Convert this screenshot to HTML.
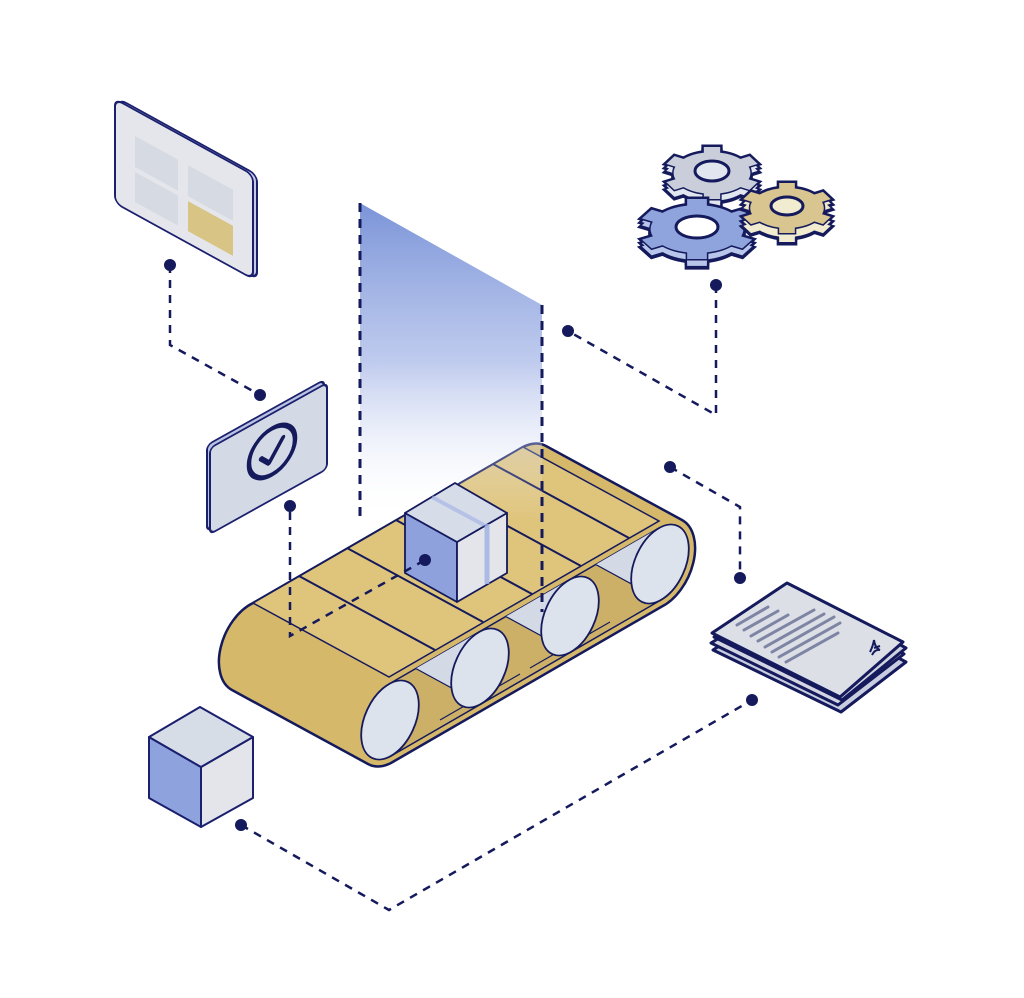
<!DOCTYPE html>
<html><head><meta charset="utf-8"><style>html,body{margin:0;padding:0;background:#fff}svg{display:block}</style></head>
<body>
<svg width="1024" height="998" viewBox="0 0 1024 998" xmlns="http://www.w3.org/2000/svg">
<defs>
<linearGradient id="plane" x1="0" y1="203" x2="0" y2="520" gradientUnits="userSpaceOnUse">
<stop offset="0" stop-color="#7b94d8" stop-opacity="1"/>
<stop offset="0.5" stop-color="#a9b9e8" stop-opacity="0.75"/>
<stop offset="1" stop-color="#ffffff" stop-opacity="0"/>
</linearGradient>
<linearGradient id="roll" x1="0" y1="0" x2="1" y2="0">
<stop offset="0" stop-color="#c3ccd9"/><stop offset="1" stop-color="#e4e8ef"/>
</linearGradient>
<clipPath id="reg"><polygon points="389,684 659,528 661,600 391,756"/></clipPath>
<g id="gear">
<circle r="0.8" vector-effect="non-scaling-stroke"/>
<rect x="-0.17" y="-1" width="0.34" height="2" vector-effect="non-scaling-stroke"/>
<rect x="-0.17" y="-1" width="0.34" height="2" transform="rotate(60)" vector-effect="non-scaling-stroke"/>
<rect x="-0.17" y="-1" width="0.34" height="2" transform="rotate(120)" vector-effect="non-scaling-stroke"/>
</g>
</defs>

<!-- connectors -->
<g fill="none" stroke="#141a5c" stroke-width="2.5" stroke-dasharray="8 7">
<polyline points="170,265 170,345 260,395"/>
<polyline points="716,285 716,415 568,331"/>
<polyline points="670,467 740,507 740,578"/>
<polyline points="241,825 389,910 752,700"/>
</g>
<g fill="#141a5c">
<circle cx="170" cy="265" r="6"/><circle cx="260" cy="395" r="6"/>
<circle cx="716" cy="285" r="6"/><circle cx="568" cy="331" r="6"/>
<circle cx="670" cy="467" r="6"/><circle cx="740" cy="578" r="6"/>
<circle cx="241" cy="825" r="6"/><circle cx="752" cy="700" r="6"/>
</g>

<!-- tablet -->
<g transform="matrix(1,0.55,0,1,119,99)">
<rect x="0" y="0" width="138" height="104" rx="7" fill="#c4c9e6" stroke="#1a1f6e" stroke-width="2"/>
</g>
<g transform="matrix(1,0.55,0,1,115,99)">
<rect x="0" y="0" width="138" height="104" rx="7" fill="#e5e6eb" stroke="#1a1f6e" stroke-width="2"/>
<rect x="20" y="26" width="43" height="31" fill="#d6dae2"/>
<rect x="73" y="26" width="45" height="31" fill="#d6dae2"/>
<rect x="20" y="62" width="43" height="30" fill="#d6dae2"/>
<rect x="73" y="62" width="45" height="30" fill="#d8c485"/>
</g>

<!-- check card -->
<g transform="matrix(1,-0.556,0,1,207,445)">
<rect x="0" y="0" width="117" height="86" rx="5" fill="#bac2e2" stroke="#1a1f6e" stroke-width="2"/>
</g>
<g transform="matrix(1,-0.556,0,1,210,448)">
<rect x="0" y="0" width="117" height="86" rx="5" fill="#d3d9e5" stroke="#1a1f6e" stroke-width="2"/>
<circle cx="62" cy="38" r="23" fill="none" stroke="#141a5c" stroke-width="4.5"/>
<polyline points="51,39 59,48 73,30" fill="none" stroke="#141a5c" stroke-width="4.5" stroke-linejoin="round" stroke-linecap="round"/>
</g>
<g fill="#141a5c"><circle cx="290" cy="506" r="6"/></g>

<!-- gears -->
<g stroke="#141a5c" stroke-width="5">
<!-- gray -->
<g transform="translate(712,173) scale(48,26)"><use href="#gear" transform="translate(0,0.31)"/><use href="#gear" transform="translate(0,0.15)"/><use href="#gear"/></g>
<g transform="translate(712,173) scale(48,26)" stroke="none" fill="#e2e6ef"><use href="#gear" transform="translate(0,0.27)"/><use href="#gear" transform="translate(0,0.14)"/></g>
<g transform="translate(712,173) scale(48,26)" stroke-width="3"><use href="#gear"/></g>
<g transform="translate(712,173) scale(48,26)" stroke="none" fill="#c9ceda"><use href="#gear"/></g>
<ellipse cx="712" cy="171" rx="17" ry="10" fill="#e2e6ef" stroke-width="3"/>
<!-- blue -->
<g transform="translate(697,229) scale(58,30)"><use href="#gear" transform="translate(0,0.27)"/><use href="#gear" transform="translate(0,0.13)"/><use href="#gear"/></g>
<g transform="translate(697,229) scale(58,30)" stroke="none" fill="#b8c6ec"><use href="#gear" transform="translate(0,0.23)"/><use href="#gear" transform="translate(0,0.12)"/></g>
<g transform="translate(697,229) scale(58,30)" stroke-width="3"><use href="#gear"/></g>
<g transform="translate(697,229) scale(58,30)" stroke="none" fill="#8fa4dc"><use href="#gear"/></g>
<ellipse cx="697" cy="227" rx="21" ry="11" fill="#ffffff" stroke-width="3"/>
<!-- tan -->
<g transform="translate(787,208) scale(46,25)"><use href="#gear" transform="translate(0,0.4)"/><use href="#gear" transform="translate(0,0.2)"/><use href="#gear"/></g>
<g transform="translate(787,208) scale(46,25)" stroke="none" fill="#f1ebcf"><use href="#gear" transform="translate(0,0.36)"/><use href="#gear" transform="translate(0,0.18)"/></g>
<g transform="translate(787,208) scale(46,25)" stroke-width="3"><use href="#gear"/></g>
<g transform="translate(787,208) scale(46,25)" stroke="none" fill="#d8c590"><use href="#gear"/></g>
<ellipse cx="787" cy="206" rx="16" ry="9" fill="#f1ebcf" stroke-width="3"/>
</g>

<!-- belt silhouette -->
<path d="M253,603 L523,447 A31 49 25 0 1 546,446 L682,520 A31 49 25 0 1 661,607 L391,763 A31 49 25 0 1 368,764 L232,690 A31 49 25 0 1 253,603 Z" fill="#d6b86a" stroke="#141a5c" stroke-width="2.5"/>
<!-- top face -->
<polygon points="253,603 523,447 659,521 389,677" fill="#dfc47c" stroke="#141a5c" stroke-width="1.5"/>
<line x1="546" y1="446" x2="682" y2="520" stroke="#141a5c" stroke-width="1"/>
<line x1="232" y1="690" x2="368" y2="764" stroke="#141a5c" stroke-width="1.5"/>
<g stroke="#141a5c" stroke-width="2">
<line x1="299" y1="576" x2="435" y2="650"/>
<line x1="347" y1="548" x2="483" y2="622"/>
<line x1="396" y1="520" x2="532" y2="594"/>
<line x1="445" y1="492" x2="581" y2="566"/>
<line x1="493" y1="464" x2="629" y2="538"/>
</g>
<!-- inner region -->
<polygon points="389,684 659,528 661,600 391,756" fill="#cdb067" stroke="#141a5c" stroke-width="1.5"/>
<g clip-path="url(#reg)" stroke="#141a5c" stroke-width="1.2" fill="#d3dae5">
<polygon points="479,632 343,558 345,630 481,704"/>
<polygon points="569,580 433,506 435,578 571,652"/>
<polygon points="659,528 523,454 525,526 661,600"/>
<line x1="440" y1="720" x2="520" y2="674"/>
<line x1="530" y1="668" x2="610" y2="622"/>
</g>
<g stroke="#141a5c" stroke-width="1.8" fill="#dde3ec">
<ellipse cx="390" cy="720" rx="25" ry="42" transform="rotate(25 390 720)"/>
<ellipse cx="480" cy="668" rx="25" ry="42" transform="rotate(25 480 668)"/>
<ellipse cx="570" cy="616" rx="25" ry="42" transform="rotate(25 570 616)"/>
<ellipse cx="660" cy="564" rx="25" ry="42" transform="rotate(25 660 564)"/>
</g>

<!-- plane -->
<polygon points="360,203 542,305 542,612 360,520" fill="url(#plane)"/>

<!-- cube on belt -->
<g stroke="#141a5c" stroke-width="1.8" stroke-linejoin="round">
<polygon points="405,513 457,542 457,602 405,573" fill="#8ea1dc"/>
<polygon points="457,542 507,513 507,573 457,602" fill="#e3e5ea"/>
<polygon points="455,483 507,513 457,542 405,513" fill="#d7dde8"/>
</g>
<line x1="487" y1="524" x2="487" y2="584" stroke="#9fb0e6" stroke-width="5" opacity="0.8"/>
<line x1="432" y1="497" x2="484" y2="525" stroke="#9fb0e6" stroke-width="4" opacity="0.6"/>

<!-- dashed lines over -->
<g fill="none" stroke="#141a5c" stroke-width="3" stroke-dasharray="9 7">
<line x1="360" y1="203" x2="360" y2="522"/>
<line x1="542" y1="305" x2="542" y2="612"/>
</g>
<g fill="none" stroke="#141a5c" stroke-width="2.5" stroke-dasharray="8 7">
<polyline points="290,512 290,636 425,560"/>
</g>
<circle cx="425" cy="560" r="6" fill="#141a5c"/>

<!-- left cube -->
<g stroke="#1a1f6e" stroke-width="2" stroke-linejoin="round">
<polygon points="149,737 201,767 201,827 149,798" fill="#8ea2dd"/>
<polygon points="201,767 253,737 253,798 201,827" fill="#e4e5ea"/>
<polygon points="200,707 253,737 201,767 149,737" fill="#d6dde7"/>
</g>

<!-- documents -->
<g stroke="#141a5c" stroke-width="3" stroke-linejoin="round">
<polygon points="713,650 790,600 906,662 841,712" fill="#c9cde0"/>
<polygon points="711,643 793,593 904,654 838,705" fill="#d3d6e2"/>
<polygon points="714,637 796,588 906,648 842,700" fill="#cfd3e0"/>
<polygon points="712,633 787,583 903,642 840,697" fill="#dcdfe6"/>
</g>
<g stroke="#7e84a3" stroke-width="3" stroke-linecap="round">
<line x1="737" y1="625" x2="768" y2="607"/>
<line x1="744" y1="630" x2="778" y2="611"/>
<line x1="751" y1="636" x2="788" y2="615"/>
<line x1="758" y1="641" x2="814" y2="610"/>
<line x1="765" y1="647" x2="824" y2="614"/>
<line x1="772" y1="652" x2="834" y2="617"/>
<line x1="779" y1="657" x2="840" y2="623"/>
<line x1="786" y1="662" x2="838" y2="633"/>
</g>
<path d="M870,652 q3,-6 4,-12 q1,8 6,10 q-5,-1 -8,5 M874,648 l6,-2" fill="none" stroke="#141a5c" stroke-width="2"/>
</svg>
</body></html>
